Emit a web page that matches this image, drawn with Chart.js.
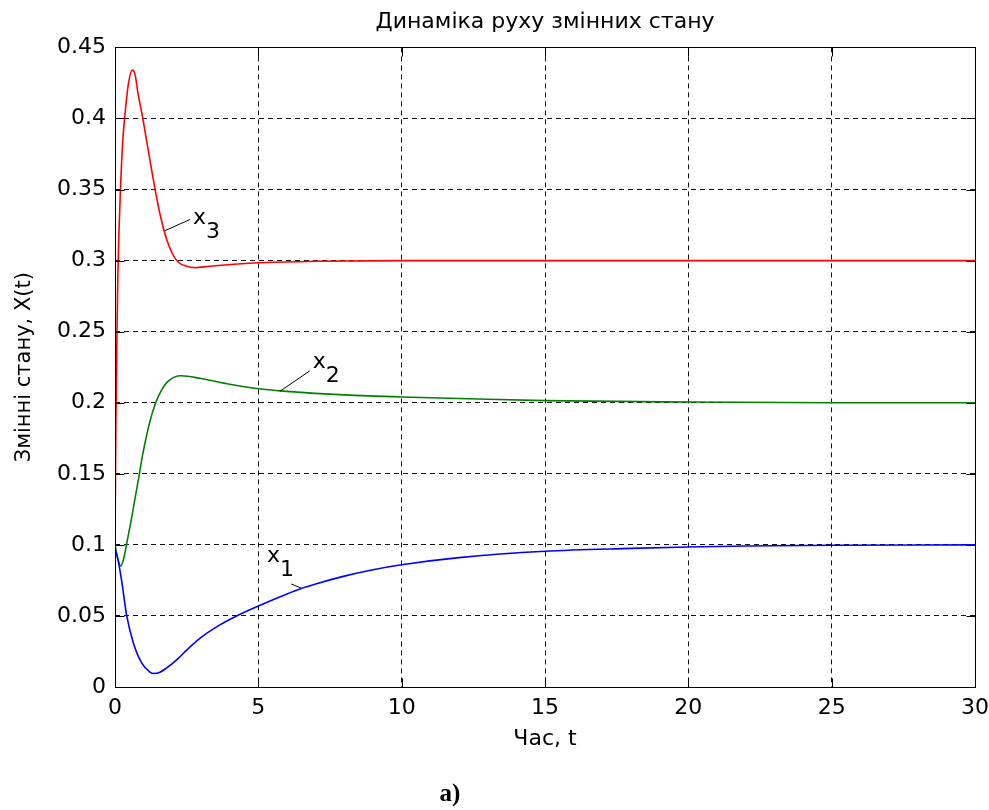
<!DOCTYPE html>
<html>
<head>
<meta charset="utf-8">
<script src="https://cdn.jsdelivr.net/npm/chart.js@4.4.1/dist/chart.umd.min.js"></script>
<style>
  html, body { margin: 0; padding: 0; background: #fff; }
  #wrap { width: 989px; height: 810px; }
</style>
</head>
<body>
<div id="wrap"><canvas id="chart" width="989" height="810"></canvas></div>
<script>
// tick values
const xTicks = [0, 5, 10, 15, 20, 25, 30];
const yTicks = [0, 0.05, 0.1, 0.15, 0.2, 0.25, 0.3, 0.35, 0.4, 0.45];

// x1 (blue)
const t1 = [0, 0.1, 0.23, 0.41, 0.64, 0.93, 1.22, 1.35, 1.5, 1.8, 2.2, 2.5, 2.97, 3.6, 4.24, 5, 6, 6.45, 7, 8, 9, 10, 12, 15, 18, 20, 22, 25, 30];
const x1 = [0.097, 0.09, 0.075, 0.05, 0.031, 0.017, 0.0105, 0.0095, 0.0098, 0.0134, 0.02, 0.026, 0.0344, 0.043, 0.05, 0.057, 0.0655, 0.069, 0.0725, 0.078, 0.0825, 0.086, 0.091, 0.0955, 0.0975, 0.0985, 0.0992, 0.0997, 0.1];

// x2 (green)
const t2 = [0, 0.1, 0.2, 0.3, 0.4, 0.58, 0.85, 0.97, 1.22, 1.4, 1.6, 1.85, 2.3, 3, 4, 5, 6, 8, 10, 12, 15, 20, 25, 30];
const x2 = [0.1, 0.09, 0.085, 0.09, 0.1, 0.119, 0.15, 0.164, 0.187, 0.199, 0.208, 0.215, 0.219, 0.217, 0.213, 0.2098, 0.208, 0.2055, 0.204, 0.203, 0.2015, 0.2005, 0.2, 0.2];

// x3 (red)
const t3 = [0, 0.03, 0.07, 0.1, 0.2, 0.28, 0.35, 0.45, 0.6, 0.7, 0.8, 0.97, 1.19, 1.4, 1.6, 1.8, 2.0, 2.2, 2.5, 2.8, 3.3, 5, 7, 10, 15, 20, 25, 30];
const x3 = [0.1, 0.185, 0.25, 0.29, 0.355, 0.387, 0.403, 0.422, 0.434, 0.431, 0.418, 0.4, 0.374, 0.35, 0.33, 0.315, 0.305, 0.299, 0.296, 0.295, 0.296, 0.2985, 0.2995, 0.3, 0.3, 0.3, 0.3, 0.3];

// curve labels: pointer from a point on the curve to the label (data coords)
const curveNotes = [
    { sub: '1', from: [6.5, 0.0695], to: [6.15, 0.0725], at: [5.3, 0.088] },
    { sub: '2', from: [5.75, 0.208], to: [6.8, 0.2225], at: [6.9, 0.2245] },
    { sub: '3', from: [1.74, 0.321], to: [2.62, 0.329], at: [2.72, 0.326] }
];

const FONT = "'DejaVu Sans', sans-serif";

function pts(t, v) { return t.map((tt, i) => ({ x: tt, y: v[i] })); }

const matlabFrame = {
    id: 'matlabFrame',
    afterDraw(chart) {
        const { ctx, chartArea: a, scales: { x, y } } = chart;
        ctx.save();
        ctx.setLineDash([]);
        ctx.strokeStyle = '#000';
        ctx.lineWidth = 1;
        const L = Math.round(a.left) + 0.5, R = Math.round(a.right) + 0.5;
        const T = Math.round(a.top) + 0.5, B = Math.round(a.bottom) + 0.5;
        ctx.strokeRect(L, T, R - L, B - T);
        // inward tick marks, all four sides
        ctx.beginPath();
        xTicks.forEach(v => {
            const px = Math.round(x.getPixelForValue(v)) + 0.5;
            ctx.moveTo(px, B); ctx.lineTo(px, B - 9);
            ctx.moveTo(px, T); ctx.lineTo(px, T + 9);
        });
        yTicks.forEach(v => {
            const py = Math.round(y.getPixelForValue(v)) + 0.5;
            ctx.moveTo(L, py); ctx.lineTo(L + 9, py);
            ctx.moveTo(R, py); ctx.lineTo(R - 9, py);
        });
        ctx.stroke();

        // curve labels
        ctx.fillStyle = '#000';
        curveNotes.forEach(n => {
            ctx.beginPath();
            ctx.moveTo(x.getPixelForValue(n.from[0]), y.getPixelForValue(n.from[1]));
            ctx.lineTo(x.getPixelForValue(n.to[0]), y.getPixelForValue(n.to[1]));
            ctx.stroke();
            const lx = x.getPixelForValue(n.at[0]), ly = y.getPixelForValue(n.at[1]);
            ctx.font = '22px ' + FONT;
            ctx.textAlign = 'left';
            ctx.textBaseline = 'alphabetic';
            ctx.fillText('x', lx, ly);
            ctx.fillText(n.sub, lx + 13, ly + 14);
        });

        // figure caption
        ctx.font = "bold 25px 'Liberation Serif', serif";
        ctx.textAlign = 'center';
        ctx.textBaseline = 'middle';
        ctx.fillText('а)', 450, 795);
        ctx.restore();
    }
};

new Chart(document.getElementById('chart'), {
    type: 'line',
    data: {
        datasets: [
            { label: 'x1', data: pts(t1, x1), borderColor: '#0000ff' },
            { label: 'x2', data: pts(t2, x2), borderColor: '#008000' },
            { label: 'x3', data: pts(t3, x3), borderColor: '#ff0000' }
        ]
    },
    options: {
        responsive: false,
        animation: false,
        layout: { padding: { left: 0, right: 14, top: 0, bottom: 0 } },
        elements: {
            point: { radius: 0 },
            line: { borderWidth: 1.6, cubicInterpolationMode: 'monotone', fill: false }
        },
        plugins: {
            legend: { display: false },
            tooltip: { enabled: false },
            title: {
                display: true,
                fullSize: false,
                text: 'Динаміка руху змінних стану',
                color: '#000',
                font: { family: FONT, size: 22, weight: 'normal', lineHeight: 1.2 },
                padding: { top: 9, bottom: 12 }
            }
        },
        scales: {
            x: {
                type: 'linear',
                min: 0, max: 30,
                afterBuildTicks: s => { s.ticks = xTicks.map(v => ({ value: v })); },
                afterFit: s => { s.height = 123; s.paddingLeft = 0; s.paddingRight = 0; },
                grid: { color: '#111', lineWidth: 1, drawTicks: false },
                border: { display: false, dash: [5, 4] },
                ticks: { color: '#000', padding: 8, font: { family: FONT, size: 22 }, maxRotation: 0, callback: v => String(v) },
                title: { display: true, text: 'Час, t', color: '#000', font: { family: FONT, size: 22 }, padding: { top: 0, bottom: 58 } }
            },
            y: {
                type: 'linear',
                min: 0, max: 0.45,
                afterBuildTicks: s => { s.ticks = yTicks.map(v => ({ value: v })); },
                afterFit: s => { s.width = 115; s.paddingTop = 0; s.paddingBottom = 0; },
                grid: { color: '#111', lineWidth: 1, drawTicks: false },
                border: { display: false, dash: [5, 4] },
                ticks: { color: '#000', padding: 9, font: { family: FONT, size: 22 }, callback: v => String(v) },
                title: { display: true, text: 'Змінні стану, X(t)', color: '#000', font: { family: FONT, size: 21 }, padding: { top: 12, bottom: 0 } }
            }
        }
    },
    plugins: [matlabFrame]
});
</script>
</body>
</html>
